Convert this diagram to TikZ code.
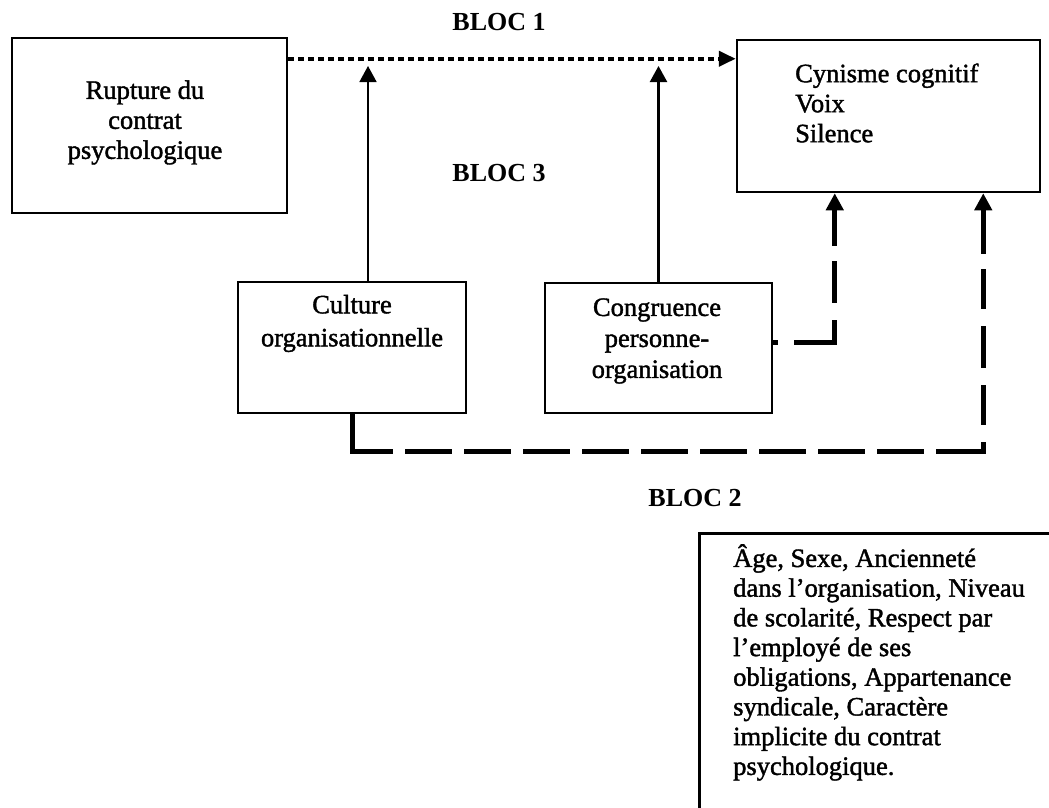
\documentclass[tikz,border=0pt]{standalone}
\usepackage{fontspec}
\setmainfont{Liberation Serif}
\newfontfamily\bodyfont{Liberation Serif}[FakeBold=1.5]
\usetikzlibrary{arrows.meta,calc}

\begin{document}
\begin{tikzpicture}[x=1pt,y=-1pt,
  box/.style={draw,line width=2.5pt,inner sep=0pt},
  body/.style={font=\bodyfont\fontsize{26.5pt}{30pt}\selectfont,inner sep=0pt},
  bloc/.style={font=\bfseries\fontsize{26pt}{30pt}\selectfont,inner sep=0pt},
  dotarrow/.style={line width=4pt,dash pattern=on 6pt off 4pt,
    -{Triangle[length=17pt,width=15pt]}},
  thinarrow/.style={-{Triangle[length=16pt,width=17pt]}},
  heavydash/.style={line width=5pt,-{Triangle[length=17pt,width=17pt]}}]

\clip (0,0) rectangle (1049,808);
\fill[white] (0,0) rectangle (1049,808);

% boxes
\node[box,minimum width=275pt,minimum height=175pt] (rupture) at (149.5,125.5) {};
\node[body,align=center] (rupturetxt) at (145,122.5) {Rupture du\\contrat\\psychologique};

\node[box,minimum width=303pt,minimum height=152pt] (effets) at (888.5,116) {};
\node[body,align=left,anchor=west] (effetstxt) at (795,103) {Cynisme cognitif\\Voix\\Silence};

\node[box,minimum width=228pt,minimum height=131pt] (culture) at (352,347.5) {};
\node[body,align=center,font=\bodyfont\fontsize{26.5pt}{33pt}\selectfont] (culturetxt) at (352,323.5) {Culture\\organisationnelle};

\node[box,minimum width=227pt,minimum height=130pt] (congru) at (658.5,348) {};
\node[body,align=center,font=\bodyfont\fontsize{26.5pt}{31pt}\selectfont] (congrutxt) at (657,341) {Congruence\\personne-\\organisation};

\node[box,minimum width=420pt,minimum height=340pt,anchor=north west] (controles) at (698,532) {};
\node[body,align=left,anchor=north west,font=\bodyfont\fontsize{26.5pt}{29.7pt}\selectfont] (controlestxt) at (733,544)
  {Âge, Sexe, Ancienneté\\dans l’organisation, Niveau\\de scolarité, Respect par\\l’employé de ses\\obligations, Appartenance\\syndicale, Caractère\\implicite du contrat\\psychologique.};

% block labels
\node[bloc] (bloc1) at (499,22) {BLOC 1};
\node[bloc] (bloc3) at (499,173) {BLOC 3};
\node[bloc] (bloc2) at (695,498) {BLOC 2};

% direct effect
\draw[dotarrow] ($(rupture.north east)+(0,22)$) -- ($(effets.north west)+(0,20)$);

% moderators acting on the direct effect
\coordinate (dotrow) at (0,66);
\coordinate (cultout) at ($(culture.north)+(16,0)$);
\draw[thinarrow,line width=1.6pt] (cultout) -- (cultout |- dotrow);
\draw[thinarrow,line width=2.2pt] (congru.north) -- (congru.north |- dotrow);

% direct effects of the moderators
\draw[heavydash,dash pattern=on 5pt off 16pt on 63pt off 17pt on 42pt off 15pt on 200pt]
  ($(congru.east)+(0,-6)$) -| ($(effets.south west)+(99,0)$);
\draw[heavydash,dash pattern=on 78pt off 12pt on 47pt off 12pt on 47pt off 12pt
  on 47pt off 12pt on 47pt off 12pt on 47pt off 12pt on 47pt off 12pt on 47pt off 12pt
  on 47pt off 12pt on 47pt off 12pt on 57pt off 17pt on 40pt off 17pt on 42pt off 17pt
  on 40pt off 15pt on 200pt]
  (culture.south) -- ++(0,37) -| ($(effets.south east)+(-58,0)$);
\end{tikzpicture}
\end{document}
